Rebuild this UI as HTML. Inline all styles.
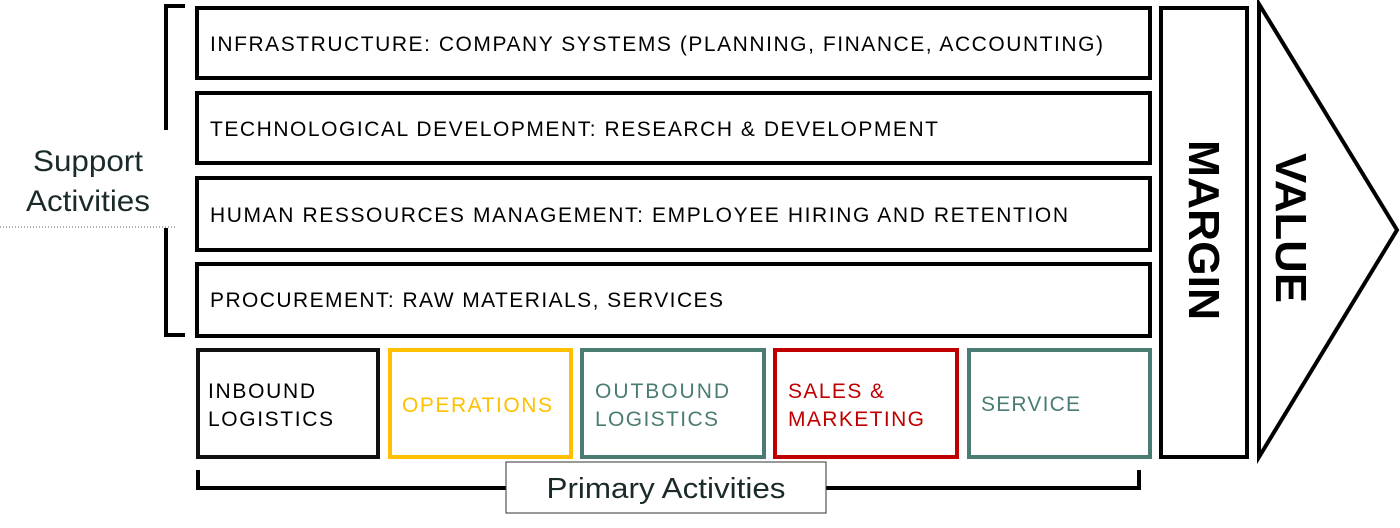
<!DOCTYPE html>
<html><head><meta charset="utf-8"><style>
html,body{margin:0;padding:0;background:#fff;width:1400px;height:528px;overflow:hidden}
svg{display:block;font-family:"Liberation Sans",sans-serif}
</style></head><body>
<svg width="1400" height="528" viewBox="0 0 1400 528">
<g fill="none" stroke="#000" stroke-width="4">
<path d="M185,6 H166 V130"/><path d="M166,228 V335 H185"/>
</g>
<g>
<rect x="0" y="134" width="176" height="93" fill="#fff"/>
<line x1="0" y1="227" x2="176" y2="227" stroke="#666" stroke-width="1" stroke-dasharray="1,2"/>
<text x="88" y="171" font-size="30" text-anchor="middle" fill="#1a2a2a" textLength="110" lengthAdjust="spacingAndGlyphs">Support</text>
<text x="88" y="211" font-size="30" text-anchor="middle" fill="#1a2a2a" textLength="124" lengthAdjust="spacingAndGlyphs">Activities</text>
</g>
<g fill="#fff" stroke="#000" stroke-width="4">
<rect x="197" y="8" width="953" height="70"/>
<rect x="197" y="93" width="953" height="70"/>
<rect x="197" y="178" width="953" height="72"/>
<rect x="197" y="264" width="953" height="72"/>
</g>
<g font-size="21" fill="#000">
<text x="210" y="51" textLength="893" lengthAdjust="spacing">INFRASTRUCTURE: COMPANY SYSTEMS (PLANNING, FINANCE, ACCOUNTING)</text>
<text x="210" y="136" textLength="728" lengthAdjust="spacing">TECHNOLOGICAL DEVELOPMENT: RESEARCH &amp; DEVELOPMENT</text>
<text x="210" y="222" textLength="858" lengthAdjust="spacing">HUMAN RESSOURCES MANAGEMENT: EMPLOYEE HIRING AND RETENTION</text>
<text x="210" y="307" textLength="513" lengthAdjust="spacing">PROCUREMENT: RAW MATERIALS, SERVICES</text>
</g>
<g fill="#fff" stroke-width="4">
<rect x="198" y="350" width="180" height="107" stroke="#111"/>
<rect x="390" y="350" width="181" height="107" stroke="#FFC000"/>
<rect x="582" y="350" width="182" height="107" stroke="#4A7C74"/>
<rect x="775" y="350" width="182" height="107" stroke="#C00000"/>
<rect x="969" y="350" width="181" height="107" stroke="#4A7C74"/>
</g>
<g font-size="21">
<text fill="#000"><tspan x="208" y="398" textLength="107" lengthAdjust="spacing">INBOUND</tspan><tspan x="208" y="426" textLength="125" lengthAdjust="spacing">LOGISTICS</tspan></text>
<text fill="#FFC000" x="402" y="412" textLength="150" lengthAdjust="spacing">OPERATIONS</text>
<text fill="#4A7C74"><tspan x="595" y="398" textLength="134" lengthAdjust="spacing">OUTBOUND</tspan><tspan x="595" y="426" textLength="123" lengthAdjust="spacing">LOGISTICS</tspan></text>
<text fill="#C00000"><tspan x="788" y="398" textLength="96" lengthAdjust="spacing">SALES &amp;</tspan><tspan x="788" y="426" textLength="136" lengthAdjust="spacing">MARKETING</tspan></text>
<text fill="#4A7C74" x="981" y="411" textLength="99" lengthAdjust="spacing">SERVICE</text>
</g>
<path d="M198,470 V488 H1139 V470" fill="none" stroke="#000" stroke-width="4"/>
<g>
<rect x="506" y="462" width="320" height="51" fill="#fff" stroke="#333" stroke-width="1"/>
<text x="666" y="498" font-size="29" text-anchor="middle" fill="#1a2a2a" textLength="239" lengthAdjust="spacingAndGlyphs">Primary Activities</text>
</g>
<rect x="1161" y="8" width="86" height="449" fill="#fff" stroke="#000" stroke-width="4"/>
<text transform="translate(1189,230) rotate(90)" font-size="44" font-weight="bold" text-anchor="middle" fill="#000" textLength="180" lengthAdjust="spacingAndGlyphs">MARGIN</text>
<polygon points="1259,4 1397,230 1259,457" fill="#fff" stroke="#000" stroke-width="4"/>
<text transform="translate(1276,228) rotate(90)" font-size="44" font-weight="bold" text-anchor="middle" fill="#000" textLength="150" lengthAdjust="spacingAndGlyphs">VALUE</text>
</svg>
</body></html>
